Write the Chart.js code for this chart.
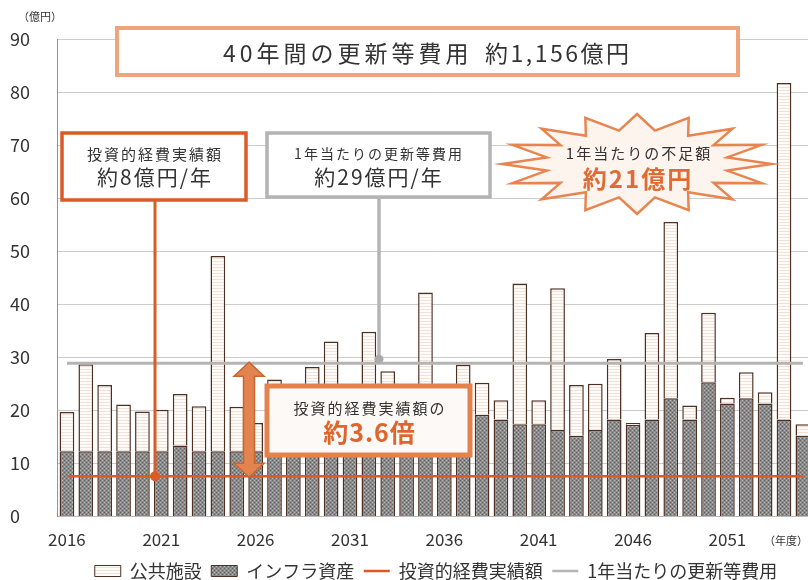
<!DOCTYPE html>
<html><head><meta charset="utf-8">
<script src="https://cdn.jsdelivr.net/npm/chart.js@4"></script>
<style>
html,body{margin:0;padding:0;overflow:hidden;background:#fff;width:808px;height:580px}
canvas{position:absolute;left:0;top:0}
</style></head><body>
<canvas id="c" width="862" height="590"></canvas>
<script>
// ---- data ----
const years = ['2016','2017','2018','2019','2020','2021','2022','2023','2024','2025',
  '2026','2027','2028','2029','2030','2031','2032','2033','2034','2035',
  '2036','2037','2038','2039','2040','2041','2042','2043','2044','2045',
  '2046','2047','2048','2049','2050','2051','2052','2053','2054','2055'];
// インフラ資産 (bottom, 億円)
const infraAssets = [12.3,12.3,12.3,12.3,12.3,12.3,13.4,12.3,12.3,12.3,
  12.3,12.3,12.3,12.3,12.3,12.3,12.3,12.3,12.3,12.3,
  12.3,12.3,19.2,18.3,17.4,17.4,16.3,15.2,16.3,18.3,
  17.3,18.3,22.3,18.3,25.3,21.3,22.3,21.3,18.3,15.2];
// 公共施設 (stacked on top, 億円)
const publicFacilities = [7.4,16.4,12.5,8.8,7.5,7.8,9.7,8.5,36.8,8.4,
  5.3,13.5,11.5,15.9,20.7,11.7,22.5,15.1,11.2,29.9,
  11.9,16.3,6.0,3.6,26.5,4.5,26.7,9.6,8.7,11.4,
  0.3,16.3,33.2,2.6,13.1,1.1,4.9,2.1,63.4,2.2];
const lineEnds = ['2016','2055'];
const investmentActual = [7.6, 7.6];     // 投資的経費実績額
const annualRenewal = [28.9, 28.9];      // 1年当たりの更新等費用
const yTicks = [0,10,20,30,40,50,60,70,80,90];
const xTickYears = ['2016','2021','2026','2031','2036','2041','2046','2051'];

const F = '"Noto Sans CJK JP","Noto Sans",sans-serif';
Chart.defaults.font.family = F;
Chart.defaults.color = '#333';

const canvas = document.getElementById('c');
const ctx0 = canvas.getContext('2d');
function makePattern(w,h,draw){
  const c=document.createElement('canvas'); c.width=w; c.height=h;
  const g=c.getContext('2d'); draw(g); return ctx0.createPattern(c,'repeat');
}
const publicFill = makePattern(4,3,g=>{g.fillStyle='#fffbf8';g.fillRect(0,0,4,3);g.fillStyle='#f0e2d8';g.fillRect(0,0,4,1);});
const infraFill = makePattern(4,4,g=>{
  g.fillStyle='#8a8a8a';g.fillRect(0,0,4,4);
  g.fillStyle='#626262';g.fillRect(0,0,1,1);g.fillRect(2,2,1,1);
  g.fillStyle='#b8b8b8';g.fillRect(2,0,1,1);g.fillRect(0,2,1,1);
});
const BORDER = '#4d3024';
const ORANGE = '#dc5a26';
const GRAY = '#b4b4b4';

function txt(ctx,s,x,y,size,color,opt={}){
  ctx.save();
  ctx.font=(opt.bold?'bold ':'')+size+'px '+F;
  ctx.fillStyle=color; ctx.textAlign=opt.align||'center'; ctx.textBaseline='middle';
  const ls=opt.ls||0; ctx.letterSpacing=ls+'px';
  ctx.fillText(s, x + ((opt.align||'center')==='center'? ls/2:0), y);
  ctx.restore();
}
function box(ctx,x,y,w,h,stroke,lw,fill){
  ctx.save(); ctx.fillStyle=fill; ctx.fillRect(x,y,w,h);
  ctx.strokeStyle=stroke; ctx.lineWidth=lw; ctx.strokeRect(x,y,w,h); ctx.restore();
}

const annotations = {
  id:'annotations',
  afterDraw(chart){
    const ctx=chart.ctx, ys=chart.scales.y;
    const yInv = ys.getPixelForValue(investmentActual[0]);
    const yRen = ys.getPixelForValue(annualRenewal[0]);
    // unit labels
    txt(ctx,'（億円）',40,17,11,'#333');
    txt(ctx,'（年度）',786,541,11,'#333');
    // title box
    box(ctx,117,28,621,47,'#f0a47c',4,'#fff');
    txt(ctx,'40年間の更新等費用',223,53,23,'#333',{align:'left',ls:4});
    txt(ctx,'約1,156億円',485,53,23,'#333',{align:'left',ls:2.5});
    // box 1 with connector
    ctx.save(); ctx.strokeStyle=ORANGE; ctx.lineWidth=3;
    ctx.beginPath(); ctx.moveTo(155,200); ctx.lineTo(155,yInv); ctx.stroke();
    ctx.fillStyle=ORANGE; ctx.beginPath(); ctx.arc(155,yInv,5,0,Math.PI*2); ctx.fill(); ctx.restore();
    box(ctx,62,133,184,67,ORANGE,3.5,'#fff');
    txt(ctx,'投資的経費実績額',154,154,15,'#333',{ls:2});
    txt(ctx,'約8億円/年',154,177,21,'#333',{ls:2});
    // box 2 with connector
    ctx.save(); ctx.strokeStyle=GRAY; ctx.lineWidth=3.5;
    ctx.beginPath(); ctx.moveTo(379,197); ctx.lineTo(379,yRen-3); ctx.stroke();
    ctx.fillStyle='#aaa'; ctx.beginPath(); ctx.arc(379,yRen-4,4.5,0,Math.PI*2); ctx.fill(); ctx.restore();
    box(ctx,267,133,223,64,GRAY,3.5,'#fff');
    txt(ctx,'1年当たりの更新等費用',378,154,14,'#333',{ls:2});
    txt(ctx,'約29億円/年',378,177,21,'#333',{ls:2});
    // star
    ctx.save();
    const cx=637, cy=164, n=16;
    ctx.beginPath();
    for(let i=0;i<2*n;i++){
      const a=-Math.PI/2+i*Math.PI/n, o=i%2===0;
      ctx.lineTo(cx+Math.cos(a)*(o?135:92), cy+Math.sin(a)*(o?50:34));
    }
    ctx.closePath(); ctx.fillStyle='#fdf4ee'; ctx.fill();
    ctx.strokeStyle='#e8844f'; ctx.lineWidth=2.5; ctx.lineJoin='miter'; ctx.stroke(); ctx.restore();
    txt(ctx,'1年当たりの不足額',638,153,15,'#333',{ls:2});
    txt(ctx,'約21億円',637,179,24,'#e06b35',{bold:true,ls:2});
    // double arrow
    ctx.save();
    const ax=249, top=yRen-1, bot=yInv+1, sw=5.5, hw=15, hh=14;
    ctx.beginPath();
    ctx.moveTo(ax,top); ctx.lineTo(ax+hw,top+hh); ctx.lineTo(ax+sw,top+hh);
    ctx.lineTo(ax+sw,bot-hh); ctx.lineTo(ax+hw,bot-hh); ctx.lineTo(ax,bot);
    ctx.lineTo(ax-hw,bot-hh); ctx.lineTo(ax-sw,bot-hh); ctx.lineTo(ax-sw,top+hh);
    ctx.lineTo(ax-hw,top+hh); ctx.closePath();
    ctx.fillStyle='#e3834f'; ctx.fill(); ctx.strokeStyle='#c9652f'; ctx.lineWidth=1.5; ctx.stroke();
    ctx.restore();
    // ratio box
    box(ctx,267,386,203,69,'#e3824c',5,'#fdf9f6');
    txt(ctx,'投資的経費実績額の',369,408,15,'#333',{ls:2});
    txt(ctx,'約3.6倍',369,432,25,'#e0652c',{bold:true,ls:1});
  }
};

const legendRank = [1,0,2,3];

new Chart(canvas,{
  type:'bar',
  data:{
    labels: years,
    datasets:[
      {label:'インフラ資産', data: infraAssets, backgroundColor: infraFill, borderColor: BORDER, borderWidth:1.5,
       barPercentage:0.78, categoryPercentage:1, order:1},
      {label:'公共施設', data: publicFacilities, backgroundColor: publicFill, borderColor: BORDER, borderWidth:1.5,
       barPercentage:0.78, categoryPercentage:1, order:1},
      {type:'line', label:'投資的経費実績額', data: lineEnds.map((x,i)=>({x, y: investmentActual[i]})),
       borderColor: ORANGE, backgroundColor: ORANGE, borderWidth:2.5, pointRadius:0, stack:'s1', order:0},
      {type:'line', label:'1年当たりの更新等費用', data: lineEnds.map((x,i)=>({x, y: annualRenewal[i]})),
       borderColor: GRAY, backgroundColor: GRAY, borderWidth:3, pointRadius:0, stack:'s2', order:0}
    ]
  },
  options:{
    responsive:false, animation:false, devicePixelRatio:1,
    layout:{padding:{left:10,top:39,right:0,bottom:0}},
    scales:{
      x:{stacked:true, offset:true, grid:{display:false, drawTicks:false}, border:{display:true,color:'#bbbbbb'},
        ticks:{autoSkip:false, maxRotation:0, padding:13, color:'#333', font:{size:17},
          callback(v){ const l=this.getLabelForValue(v); return xTickYears.includes(l)?l:''; }},
        afterFit(s){ s.height=36; }},
      y:{stacked:true, min:0, max:90,
        afterBuildTicks(s){ s.ticks = yTicks.map(v=>({value:v})); },
        ticks:{crossAlign:'far', color:'#333', font:{size:18}, padding:0},
        grid:{color:'#cccccc', drawTicks:false}, border:{color:'#a98a78', width:1},
        afterFit(s){ s.width=47.5; }},
      yR:{position:'right', display:true, grid:{display:false}, border:{display:false}, ticks:{display:false},
        afterFit(s){ s.width=862-812.3; }}
    },
    plugins:{
      tooltip:{enabled:false},
      legend:{position:'bottom',
        labels:{usePointStyle:true, pointStyleWidth:26, boxHeight:11, padding:9.5, color:'#333', font:{size:18},
          generateLabels(chart){
            const items = Chart.defaults.plugins.legend.labels.generateLabels(chart);
            items.forEach(it=>{
              const ds = chart.data.datasets[it.datasetIndex];
              if(ds.type==='line'){ it.pointStyle='line'; it.strokeStyle=ds.borderColor; it.lineWidth=2.5; }
              else { it.pointStyle='rect'; it.strokeStyle=BORDER; it.lineWidth=1; }
            });
            return items;
          },
          sort(a,b){ return legendRank[a.datasetIndex]-legendRank[b.datasetIndex]; }
        }}
    }
  },
  plugins:[annotations]
});
</script>
</body></html>
